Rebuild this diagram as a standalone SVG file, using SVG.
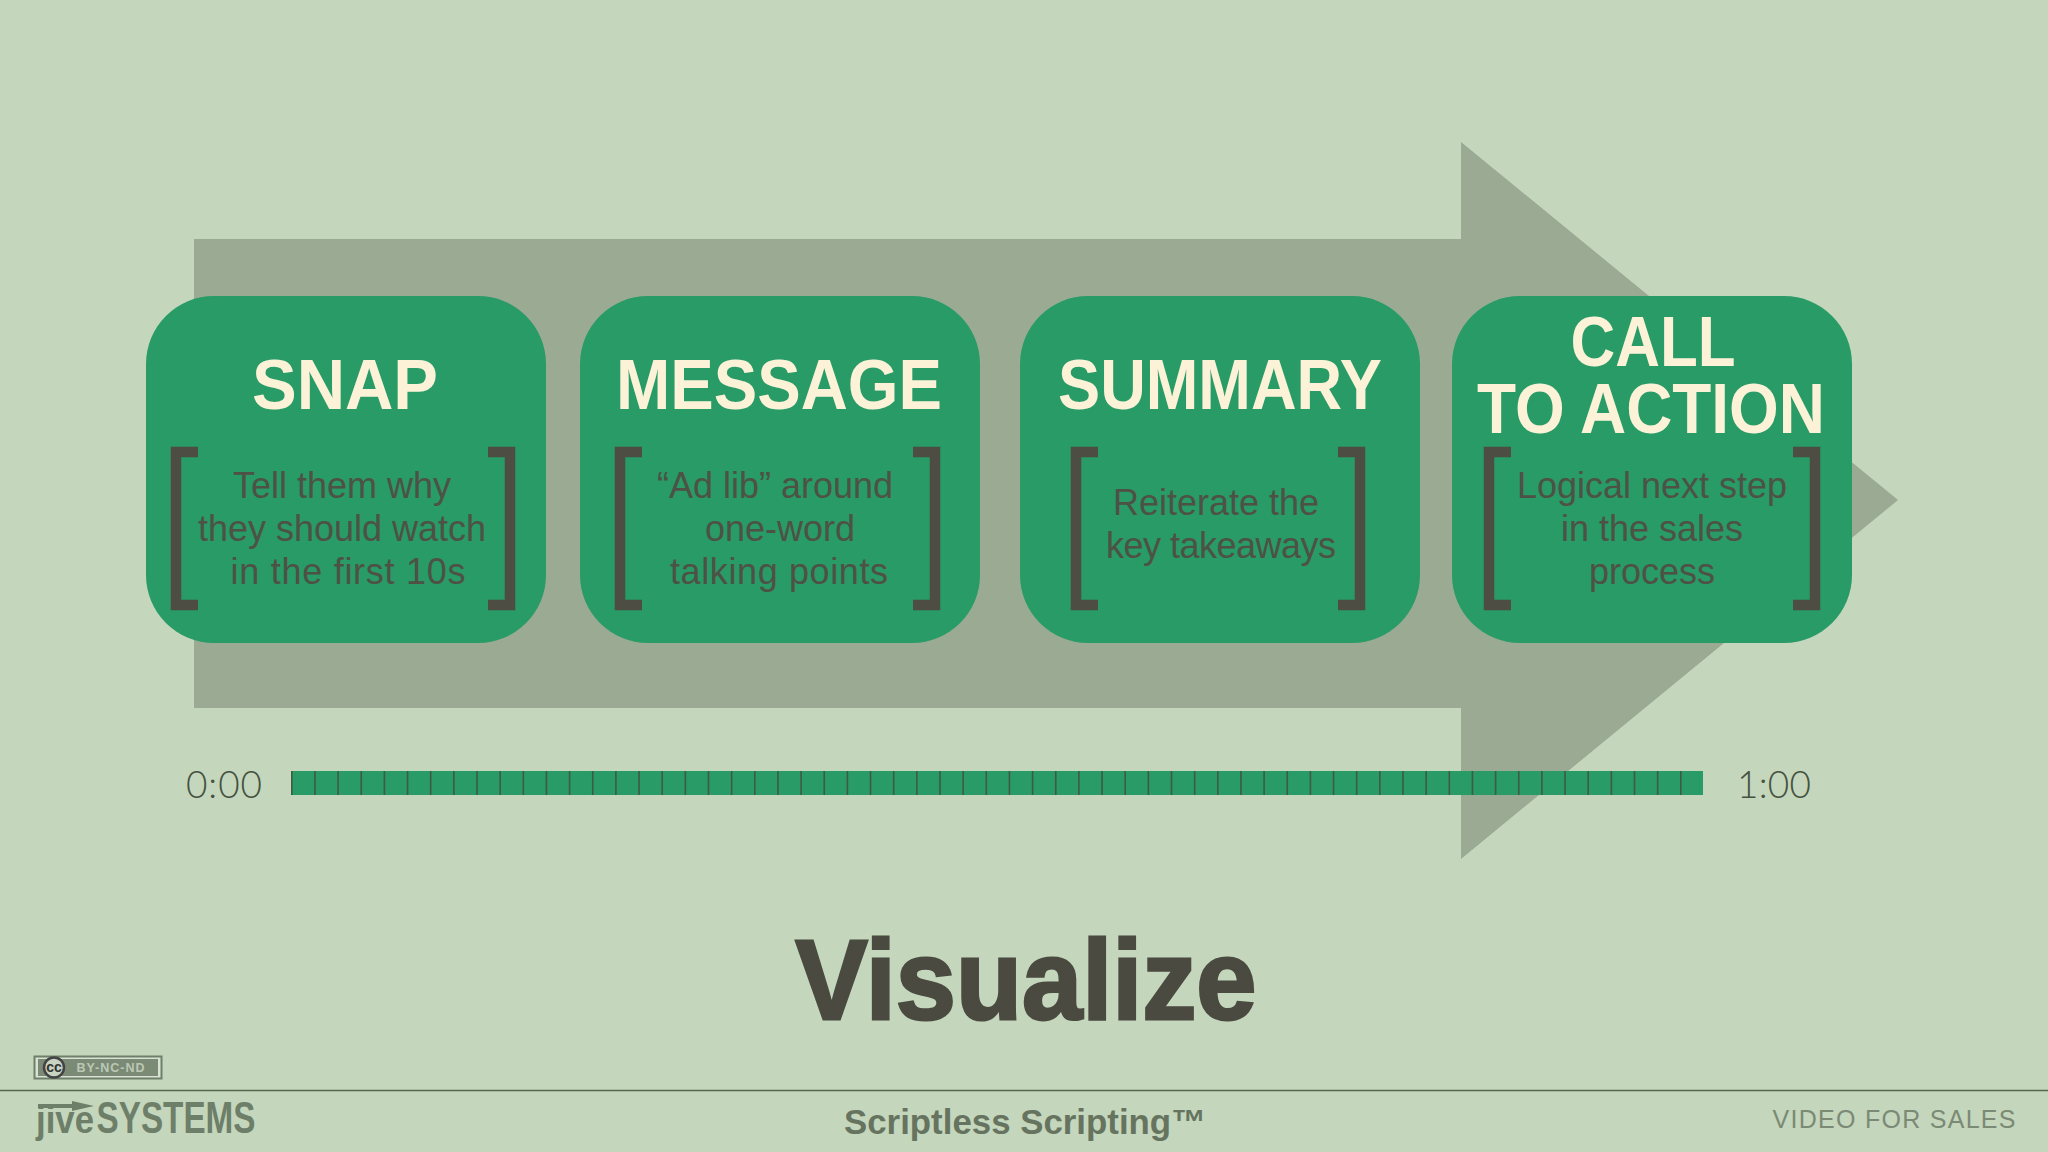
<svg xmlns="http://www.w3.org/2000/svg" width="2048" height="1152" viewBox="0 0 2048 1152">
<defs><style>
text{font-family:"Liberation Sans",Arial,sans-serif;text-anchor:middle}
.box{fill:#289b66}
.t{font-size:71px;font-weight:700;fill:#fbf2d8}
.s{font-size:36px;fill:#4e5145}
.b{fill:none;stroke:#4d4d43;stroke-width:10.5}
.time{font-family:Lato,sans-serif;font-size:37px;font-weight:300;fill:#45523f}
</style></defs>
<rect width="2048" height="1152" fill="#c4d6bc"/>
<polygon id="big-arrow" points="194,239 1461,239 1461,142 1898,500 1461,859 1461,708 194,708" fill="#9aaa93"/>
<g id="snap"><rect class="box" x="146" y="296" width="400" height="347" rx="68"/><text class="t" x="345" y="409" textLength="186" lengthAdjust="spacingAndGlyphs">SNAP</text><path class="b" d="M198,452H176V605H198M488,452H510V605H488"/><text class="s" x="342" y="498">Tell them why</text><text class="s" x="342" y="541">they should watch</text><text class="s" x="348" y="584" textLength="235">in the first 10s</text></g>
<g id="message"><rect class="box" x="580" y="296" width="400" height="347" rx="68"/><text class="t" x="779" y="409" textLength="326" lengthAdjust="spacingAndGlyphs">MESSAGE</text><path class="b" d="M642,452H620V605H642M913,452H935V605H913"/><text class="s" x="775" y="498">“Ad lib” around</text><text class="s" x="780" y="541">one-word</text><text class="s" x="779" y="584" textLength="218">talking points</text></g>
<g id="summary"><rect class="box" x="1020" y="296" width="400" height="347" rx="68"/><text class="t" x="1220" y="409" textLength="324" lengthAdjust="spacingAndGlyphs">SUMMARY</text><path class="b" d="M1098,452H1076V605H1098M1338,452H1360V605H1338"/><text class="s" x="1216" y="515">Reiterate the</text><text class="s" x="1221" y="558" textLength="230">key takeaways</text></g>
<g id="call-to-action"><rect class="box" x="1452" y="296" width="400" height="347" rx="68"/><text class="t" x="1653" y="365.500" textLength="165" lengthAdjust="spacingAndGlyphs">CALL</text><text class="t" x="1651" y="432.500" textLength="348" lengthAdjust="spacingAndGlyphs">TO ACTION</text><path class="b" d="M1511,452H1489V605H1511M1793,452H1815V605H1793"/><text class="s" x="1652" y="498">Logical next step</text><text class="s" x="1652" y="541">in the sales</text><text class="s" x="1652" y="584">process</text></g>
<g id="timeline"><rect x="291" y="771" width="1412" height="24" fill="#289b66"/>
<path d="M291,783H1703" fill="none" stroke="#3f5a45" stroke-width="24" stroke-dasharray="1.600 21.550"/>
<text class="time" x="224" y="798" textLength="76">0:00</text><text class="time" x="1774" y="798" textLength="74">1:00</text></g>
<text id="title" x="1026" y="1019" font-size="113" font-weight="700" fill="#4a4a40" stroke="#4a4a40" stroke-width="3" textLength="461" lengthAdjust="spacingAndGlyphs">Visualize</text>
<g id="footer"><path d="M0,1090.500H2048" stroke="#55694f" stroke-width="1.500"/>
<rect x="34.500" y="1056.500" width="127" height="22" fill="#d8e2d2" stroke="#6f7f6a" stroke-width="2"/><rect x="38" y="1059" width="120" height="17" fill="#7b8a75"/>
<circle cx="54" cy="1067.500" r="10" fill="#c8d3c2" stroke="#444" stroke-width="2.500"/><text x="54" y="1072" font-size="14" font-weight="700" fill="#333">cc</text>
<text x="111" y="1072" font-size="12.500" font-weight="700" letter-spacing="1" fill="#bcc8b6">BY-NC-ND</text>
<path d="M38,1106H84" stroke="#6e7f69" stroke-width="4"/><polygon points="72,1101 94,1106 72,1111" fill="#6e7f69"/>
<text x="65" y="1133" font-size="38" font-weight="700" fill="#6e7f69" textLength="58" lengthAdjust="spacingAndGlyphs">jive</text>
<text x="176" y="1133" font-size="44" font-weight="700" fill="#6e7f69" textLength="159" lengthAdjust="spacingAndGlyphs">SYSTEMS</text>
<text x="1025" y="1134" font-size="35" font-weight="700" fill="#66745f" textLength="362" lengthAdjust="spacingAndGlyphs">Scriptless Scripting™</text>
<text x="1894" y="1128" font-size="25" fill="#7b8a75" textLength="243">VIDEO FOR SALES</text></g>
</svg>
